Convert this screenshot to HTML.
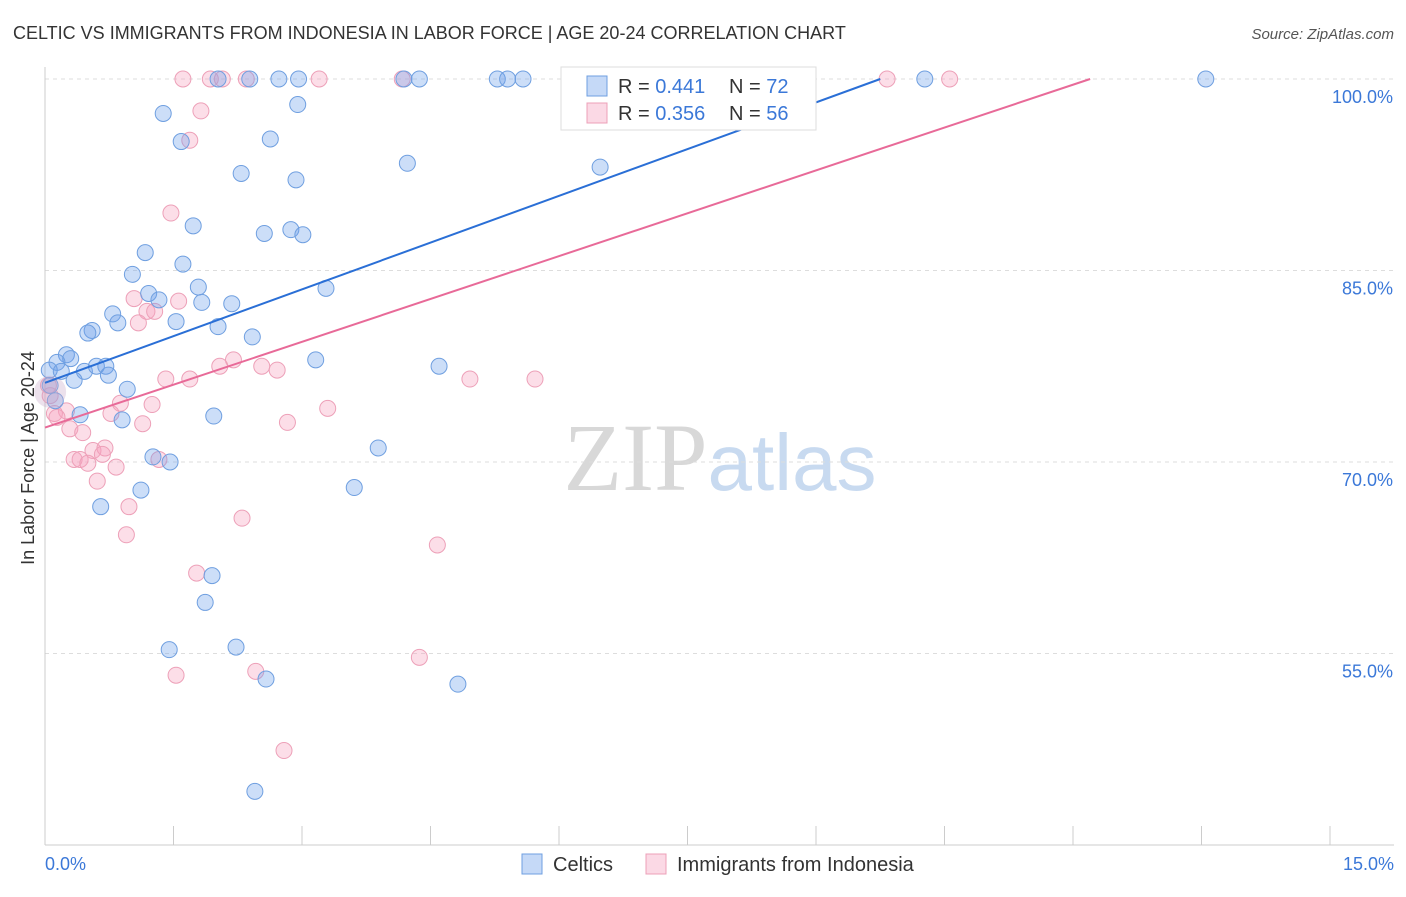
<!DOCTYPE html>
<html><head><meta charset="utf-8"><style>
body{margin:0;background:#fff;font-family:"Liberation Sans",sans-serif}
svg text{font-family:"Liberation Sans",sans-serif}
</style></head><body>
<svg id="chart" width="1406" height="892" xmlns="http://www.w3.org/2000/svg">
<text x="13" y="39" font-size="18" fill="#333">CELTIC VS IMMIGRANTS FROM INDONESIA IN LABOR FORCE | AGE 20-24 CORRELATION CHART</text>
<text x="1394" y="39" font-size="15" fill="#555" text-anchor="end" font-style="italic">Source: ZipAtlas.com</text>
<text x="720" y="490" font-size="96" text-anchor="middle"><tspan fill="#d8d8d8" font-family="Liberation Serif">ZIP</tspan><tspan fill="#c8daf0" font-size="80">atlas</tspan></text>
<g id="grid"></g>
<g id="axes"></g>
<g id="marks"></g>
<text transform="translate(34,458) rotate(-90)" font-size="18" fill="#333" text-anchor="middle">In Labor Force | Age 20-24</text>
<g>
<rect x="561" y="67" width="255" height="63" fill="#fff" stroke="#ddd"/>
<rect x="587" y="76" width="20" height="20" fill="rgba(110,160,235,0.4)" stroke="#6f9fe0"/>
<text x="618" y="93" font-size="20" fill="#333">R = <tspan fill="#3b78d8">0.441</tspan></text>
<text x="729" y="93" font-size="20" fill="#333">N = <tspan fill="#3b78d8">72</tspan></text>
<rect x="587" y="103" width="20" height="20" fill="rgba(245,160,190,0.4)" stroke="#eda0b8"/>
<text x="618" y="120" font-size="20" fill="#333">R = <tspan fill="#3b78d8">0.356</tspan></text>
<text x="729" y="120" font-size="20" fill="#333">N = <tspan fill="#3b78d8">56</tspan></text>
</g>
<g>
<rect x="522" y="854" width="20" height="20" fill="rgba(110,160,235,0.4)" stroke="#6f9fe0"/>
<text x="553" y="871" font-size="20" fill="#333">Celtics</text>
<rect x="646" y="854" width="20" height="20" fill="rgba(245,160,190,0.4)" stroke="#eda0b8"/>
<text x="677" y="871" font-size="20" fill="#333">Immigrants from Indonesia</text>
</g>
</svg>
<script>
const blueX=[2.02,2.39,2.73,2.96,4.19,4.37,5.28,5.40,5.58,6.75,8.17,10.27,13.55,1.38,2.95,1.59,2.63,4.23,6.48,2.29,2.93,1.73,2.56,2.87,3.01,1.17,1.61,1.02,1.79,3.28,1.21,1.33,2.18,1.83,0.79,1.53,0.85,2.02,0.55,0.50,2.42,0.25,0.30,0.14,0.05,0.19,0.46,0.60,0.71,0.74,0.34,3.16,4.60,0.96,0.41,1.97,0.90,3.89,1.26,1.46,3.61,1.12,0.65,1.95,1.87,1.45,2.23,2.58,4.82,2.45,0.06,0.12];
const blueY=[100,100,100,100,100,100,100,100,100,100,100,100,100,97.3,98.0,95.1,95.3,93.4,93.1,92.6,92.1,88.5,87.9,88.2,87.8,86.4,85.5,84.7,83.7,83.6,83.2,82.7,82.4,82.5,81.6,81.0,80.9,80.6,80.3,80.1,79.8,78.4,78.1,77.8,77.2,77.1,77.1,77.5,77.5,76.8,76.4,78.0,77.5,75.7,73.7,73.6,73.3,71.1,70.4,70.0,68.0,67.8,66.5,61.1,59.0,55.3,55.5,53.0,52.6,44.2,76.0,74.8];
const pinkX=[1.61,1.93,2.07,2.35,3.20,4.17,6.12,9.83,10.56,1.82,1.69,1.47,1.56,1.04,1.19,1.28,1.09,2.20,2.04,2.53,2.71,1.41,1.69,4.96,5.72,0.88,1.25,3.30,0.77,0.25,0.11,0.14,1.14,2.83,0.29,0.44,0.56,0.70,0.67,0.34,0.41,0.50,1.33,0.83,0.61,0.98,2.30,0.95,4.58,1.77,4.37,1.53,2.46,2.79,0.04,0.06];
const pinkY=[100,100,100,100,100,100,100,100,100,97.5,95.2,89.5,82.6,82.8,81.8,81.8,80.9,78.0,77.5,77.5,77.2,76.5,76.5,76.5,76.5,74.6,74.5,74.2,73.8,74.0,73.8,73.5,73.0,73.1,72.6,72.3,70.9,71.1,70.6,70.2,70.2,69.9,70.2,69.6,68.5,66.5,65.6,64.3,63.5,61.3,54.7,53.3,53.6,47.4,76.0,75.2];
const xTicks=[0,1.5,3,4.5,6,7.5,9,10.5,12,13.5,15];
const yTicks=[55,70,85,100];
const blueLine=[[0,76.2],[9.75,100]];
const pinkLine=[[0,72.7],[12.2,100]];
const X=v=>45+v/1.5*128.5;
const Y=v=>79+(100-v)/15*191.5;
const NS='http://www.w3.org/2000/svg';
function mk(tag,attrs,parent){const e=document.createElementNS(NS,tag);for(const k in attrs)e.setAttribute(k,attrs[k]);parent.appendChild(e);return e;}
const grid=document.getElementById('grid'),axes=document.getElementById('axes'),marks=document.getElementById('marks');
yTicks.forEach(t=>{
 const l=mk('line',{x1:45,x2:1394,y1:Y(t),y2:Y(t),stroke:'#ddd','stroke-dasharray':'4,4'},grid);
 
 
 const tx=mk('text',{x:1393,y:Y(t)+24,'font-size':18,fill:'#3b78d8','text-anchor':'end'},axes);
 tx.textContent=t.toFixed(1)+'%';
 
 
});
const xa=mk('line',{x1:45,x2:1394,y1:845,y2:845,stroke:'#ccc'},axes);


const ya=mk('line',{x1:45,x2:45,y1:67,y2:845,stroke:'#ccc'},axes);


xTicks.forEach(t=>{
 const l=mk('line',{x1:X(t),x2:X(t),y1:826,y2:845,stroke:'#ccc'},axes);
 
 
});
[[0,'start',45],[15,'end',1394]].forEach(([v,a,px])=>{
 const tx=mk('text',{x:px,y:870,'font-size':18,fill:'#3b78d8','text-anchor':a},axes);
 tx.textContent=v.toFixed(1)+'%';
 
 
});
function pts(xs,ys,fill,stroke,name){
 xs.forEach((x,i)=>{
  const c=mk('circle',{cx:X(x),cy:Y(ys[i]),r:8,fill:fill,stroke:stroke,'stroke-width':1},marks);
  
  
 });
}
pts(pinkX,pinkY,'rgba(245,160,190,0.35)','#eda0b8','indonesia-point');
pts(blueX,blueY,'rgba(110,160,235,0.35)','#6f9fe0','celtic-point');
const big=mk('circle',{cx:X(0.06),cy:Y(75.5),r:16,fill:'rgba(200,170,200,0.35)',stroke:'none'},marks);


const bl=mk('line',{x1:X(blueLine[0][0]),y1:Y(blueLine[0][1]),x2:X(blueLine[1][0]),y2:Y(blueLine[1][1]),stroke:'#2a6fd6','stroke-width':2},marks);


const pl=mk('line',{x1:X(pinkLine[0][0]),y1:Y(pinkLine[0][1]),x2:X(pinkLine[1][0]),y2:Y(pinkLine[1][1]),stroke:'#e86a98','stroke-width':2},marks);


</script>
</body></html>
